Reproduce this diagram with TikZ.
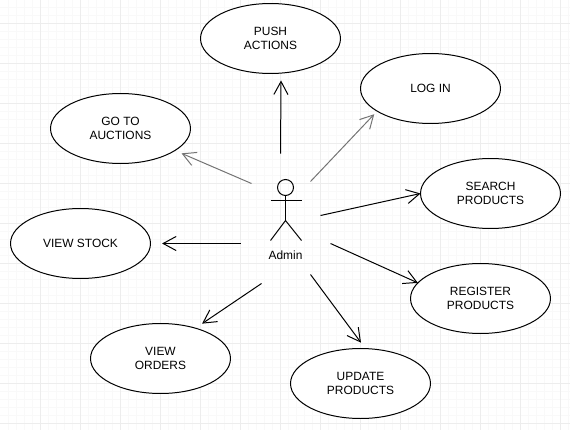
\documentclass[tikz,border=0pt]{standalone}
\usepackage{xcolor}
\usepackage{fontspec}
\setmainfont{Liberation Sans}
\usetikzlibrary{shapes.geometric,arrows.meta,positioning}
\definecolor{gridmajor}{HTML}{EDEDED}
\definecolor{gridminor}{HTML}{F9F9F9}

\begin{document}
\begin{tikzpicture}[
  x=0.02cm,
  y=-0.02cm,
  usecase/.style={
    ellipse,
    draw=black,
    fill=white,
    line width=0.567pt,
    minimum width=2.8cm,
    minimum height=1.4cm,
    inner sep=0pt,
    outer sep=0pt,
    align=center,
    font=\fontsize{6.8}{7.94}\selectfont
  },
  assoc/.style={
    -{Straight Barb[length=7.4pt,width=8pt]},
    line width=0.567pt,
    draw=black
  },
  faint/.style={
    assoc,
    draw=black!55
  },
  figure/.style={
    line width=0.567pt,
    draw=black
  }
]
\useasboundingbox (0,0) rectangle (570,429);

\begin{scope}[shift={(0.5,0.5)}]
% --- GRID ---
\foreach \gx in {8,16,...,568} {
  \draw[gridminor, line width=0.567pt] (\gx,-1) -- (\gx,429);
}
\foreach \gy in {7,15,...,423} {
  \draw[gridminor, line width=0.567pt] (-1,\gy) -- (570,\gy);
}
\foreach \gx in {40,80,...,560} {
  \draw[gridmajor, line width=0.567pt] (\gx,-1) -- (\gx,429);
}
\foreach \gy in {23,63,...,423} {
  \draw[gridmajor, line width=0.567pt] (-1,\gy) -- (570,\gy);
}

% --- USE CASES ---
\node[usecase] (push) at (270,38) {PUSH~\\ACTIONS};
\node[usecase] (login) at (430,88) {LOG IN};
\node[usecase] (auctions) at (120,128) {GO TO~\\AUCTIONS};
\node[usecase] (search) at (490,193) {SEARCH~\\PRODUCTS};
\node[usecase] (stock) at (80,243) {VIEW STOCK};
\node[usecase] (register) at (480,298) {REGISTER\\PRODUCTS};
\node[usecase] (orders) at (160,358) {VIEW~\\ORDERS};
\node[usecase] (update) at (360,383) {UPDATE~\\PRODUCTS};

% --- ACTOR ---
\node[circle, figure, minimum size=0.32cm, inner sep=0pt, outer sep=0pt] (head) at (285,187) {};
\coordinate (hip) at (285,220);
\coordinate (arm_left) at (270,200);
\coordinate (arm_right) at (301,200);
\coordinate (foot_left) at (270,240);
\coordinate (foot_right) at (301,240);
\draw[figure] (head.south) -- (hip);
\draw[figure] (arm_left) -- (arm_right);
\draw[figure] (foot_left) -- (hip) -- (foot_right);
\node[font=\fontsize{6.8}{7.94}\selectfont, inner sep=0pt] (admin) at (285,255) {Admin};

% --- FREE ENDS AROUND THE ACTOR ---
\coordinate (to_push) at (280,153);
\coordinate (to_login) at (310,181);
\coordinate (to_auctions) at (251,183);
\coordinate (to_search) at (320,215);
\coordinate (to_stock) at (240,243);
\coordinate (to_register) at (330,243);
\coordinate (to_orders) at (261,283);
\coordinate (to_update) at (310,274);

% --- ASSOCIATIONS ---
\draw[assoc, shorten >=4.2pt] (to_push) -- (push.-73.9);
\draw[faint, shorten >=2.4pt] (to_login) -- (login.203.4);
\draw[faint, shorten >=4.1pt] (to_auctions) -- (auctions.-22.1);
\draw[assoc] (to_search) -- (search.west);
\draw[assoc, shorten >=6.6pt] (to_stock) -- (stock.east);
\draw[assoc] (to_register) -- (register.166.8);
\draw[assoc, shorten >=4.6pt] (to_orders) -- (orders.41.6);
\draw[assoc, shorten >=4.2pt] (to_update) -- (update.82.8);
\end{scope}

\end{tikzpicture}
\end{document}
